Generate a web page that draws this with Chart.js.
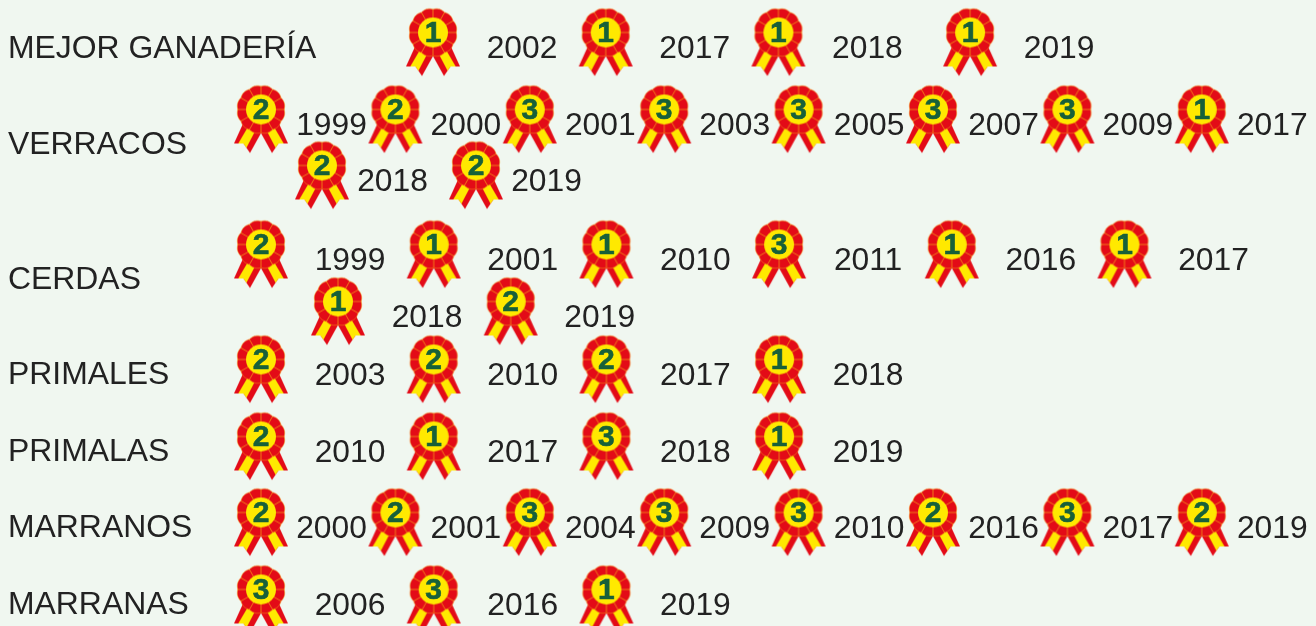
<!DOCTYPE html>
<html>
<head>
<meta charset="utf-8">
<script src="https://cdn.jsdelivr.net/npm/chart.js@4"></script>
<style>
html,body{margin:0;padding:0;background:#f0f7f0;overflow:hidden}
canvas{display:block}
</style>
</head>
<body>
<canvas id="c" width="1316" height="626" style="width:1316px;height:626px"></canvas>
<script>
// ---- data ----
const categories = ["MEJOR GANADERÍA","VERRACOS","CERDAS","PRIMALES","PRIMALAS","MARRANOS","MARRANAS"];
const mejorYears = [2002,2017,2018,2019];
const mejorPlaces = [1,1,1,1];
const verracosYears = [1999,2000,2001,2003,2005,2007,2009,2017,2018,2019];
const verracosPlaces = [2,2,3,3,3,3,3,1,2,2];
const cerdasYears = [1999,2001,2010,2011,2016,2017,2018,2019];
const cerdasPlaces = [2,1,1,3,1,1,1,2];
const primalesYears = [2003,2010,2017,2018];
const primalesPlaces = [2,2,2,1];
const primalasYears = [2010,2017,2018,2019];
const primalasPlaces = [2,1,3,1];
const marranosYears = [2000,2001,2004,2009,2010,2016,2017,2019];
const marranosPlaces = [2,2,3,3,3,2,3,2];
const marranasYears = [2006,2016,2019];
const marranasPlaces = [3,3,1];
const allYears = [mejorYears,verracosYears,cerdasYears,primalesYears,primalasYears,marranosYears,marranasYears];
const allPlaces = [mejorPlaces,verracosPlaces,cerdasPlaces,primalesPlaces,primalasPlaces,marranosPlaces,marranasPlaces];

// ---- layout (flow of each row into lines of medals) ----
const W = 1316, H = 626;
const rowLabelY = [49,145,280,375,452,528,605];
const WIDE = {step:172.7, text:89}, NARROW = {step:134.4, text:70.5};
const rowLines = [
  [{n:4,y:49,start:433,...WIDE,lastShift:19}],
  [{n:8,y:126,start:261,...NARROW},{n:2,y:182,start:322,step:154,text:70.5}],
  [{n:6,y:261,start:261,...WIDE},{n:2,y:318,start:338,...WIDE}],
  [{n:4,y:376,start:261,...WIDE}],
  [{n:4,y:453,start:261,...WIDE}],
  [{n:8,y:529,start:261,...NARROW}],
  [{n:3,y:606,start:261,...WIDE}]
];
const MEDAL_RISE = 16.5;

function flowRow(r){
  const pts=[]; let k=0;
  rowLines[r].forEach(l=>{
    for(let i=0;i<l.n;i++,k++){
      const x=l.start+i*l.step+(l.lastShift&&i===l.n-1?l.lastShift:0);
      pts.push({x, y:l.y-MEDAL_RISE, year:allYears[r][k], place:allPlaces[r][k], textX:x+l.text, textY:l.y});
    }
  });
  return pts;
}

// ---- medal artwork ----
const RED='#e30b17', YEL='#ffe900', EDGE='#f8a818', GREEN='#17603a';
function ribbon(g,side){
  g.save();
  g.scale(side,1);
  const TL=[-17,12],TR=[2,20],BL=[-27,34],BR=[-11,43.5],N=[-17.5,34];
  const lerp=(a,b,t)=>[a[0]+(b[0]-a[0])*t,a[1]+(b[1]-a[1])*t];
  const poly=(pts,c)=>{g.beginPath();pts.forEach((p,i)=>i?g.lineTo(p[0],p[1]):g.moveTo(p[0],p[1]));g.closePath();g.fillStyle=c;g.fill();};
  poly([TL,BL,N,BR,TR],RED);
  const a=lerp(TL,TR,.3),b=lerp(TL,TR,.7);
  const c=lerp(BL,N,.45),d=lerp(N,BR,.45);
  poly([a,c,N,d,b],YEL);
  g.restore();
}
function makeMedal(){
  const cv=document.createElement('canvas');cv.width=64;cv.height=100;
  const g=cv.getContext('2d');
  g.translate(32,50);
  ribbon(g,1);ribbon(g,-1);
  const R=24.2,seg=12,steps=240;
  g.beginPath();
  for(let i=0;i<=steps;i++){
    const t=i/steps*2*Math.PI;
    const r=R-1*(1-Math.abs(Math.sin(seg/2*t)));
    const a=t-Math.PI/2;
    const px=Math.cos(a)*r, py=Math.sin(a)*r;
    i?g.lineTo(px,py):g.moveTo(px,py);
  }
  g.closePath();
  g.fillStyle=RED;g.fill();
  g.strokeStyle=EDGE;g.lineWidth=.5;g.stroke();
  g.lineWidth=.7;
  for(let i=0;i<seg;i++){
    const a=-Math.PI/2+i*2*Math.PI/seg;
    g.beginPath();g.moveTo(Math.cos(a)*14,Math.sin(a)*14);g.lineTo(Math.cos(a)*(R-1),Math.sin(a)*(R-1));g.stroke();
  }
  g.beginPath();g.arc(0,0,15,0,2*Math.PI);g.fillStyle=YEL;g.fill();
  return cv;
}
const medal=makeMedal();

// ---- texts over the scales ----
const textPlugin={
  id:'medalTexts',
  afterDatasetsDraw(chart){
    const {ctx,scales:{x,y}}=chart;
    ctx.save();
    ctx.textAlign='center';ctx.textBaseline='middle';
    chart.data.datasets.forEach(ds=>ds.data.forEach(p=>{
      const mx=x.getPixelForValue(p.x), my=y.getPixelForValue(p.y)+1;
      ctx.fillStyle=GREEN;ctx.strokeStyle=GREEN;ctx.lineWidth=.6;
      ctx.font='bold 30px "Liberation Sans", Arial, sans-serif';
      ctx.fillText(String(p.place),mx,my);
      ctx.strokeText(String(p.place),mx,my);
      ctx.fillStyle='#222222';
      ctx.font='31.8px "Liberation Sans", Arial, sans-serif';
      ctx.fillText(String(p.year),x.getPixelForValue(p.textX),y.getPixelForValue(p.textY));
    }));
    ctx.restore();
  }
};

new Chart(document.getElementById('c'),{
  type:'scatter',
  data:{datasets:categories.map((name,r)=>({
    label:name,
    data:flowRow(r),
    pointStyle:medal,
    clip:false
  }))},
  options:{
    responsive:false,animation:false,
    layout:{padding:0,autoPadding:false},
    plugins:{legend:{display:false},tooltip:{enabled:false},title:{display:false}},
    scales:{
      x:{type:'linear',display:false,min:0,max:W},
      y:{type:'linear',reverse:true,min:0,max:H,
        grid:{display:false},border:{display:false},
        afterBuildTicks(axis){axis.ticks=rowLabelY.map(v=>({value:v}));},
        afterFit(axis){axis.width=0;axis.paddingTop=0;axis.paddingBottom=0;axis.paddingLeft=0;axis.paddingRight=0;},
        ticks:{mirror:true,padding:8,autoSkip:false,color:'#222222',
          font:{family:'"Liberation Sans", Arial, sans-serif',size:31.9},
          callback(v){return categories[rowLabelY.indexOf(v)];}}
      }
    }
  },
  plugins:[textPlugin]
});
</script>
</body>
</html>
